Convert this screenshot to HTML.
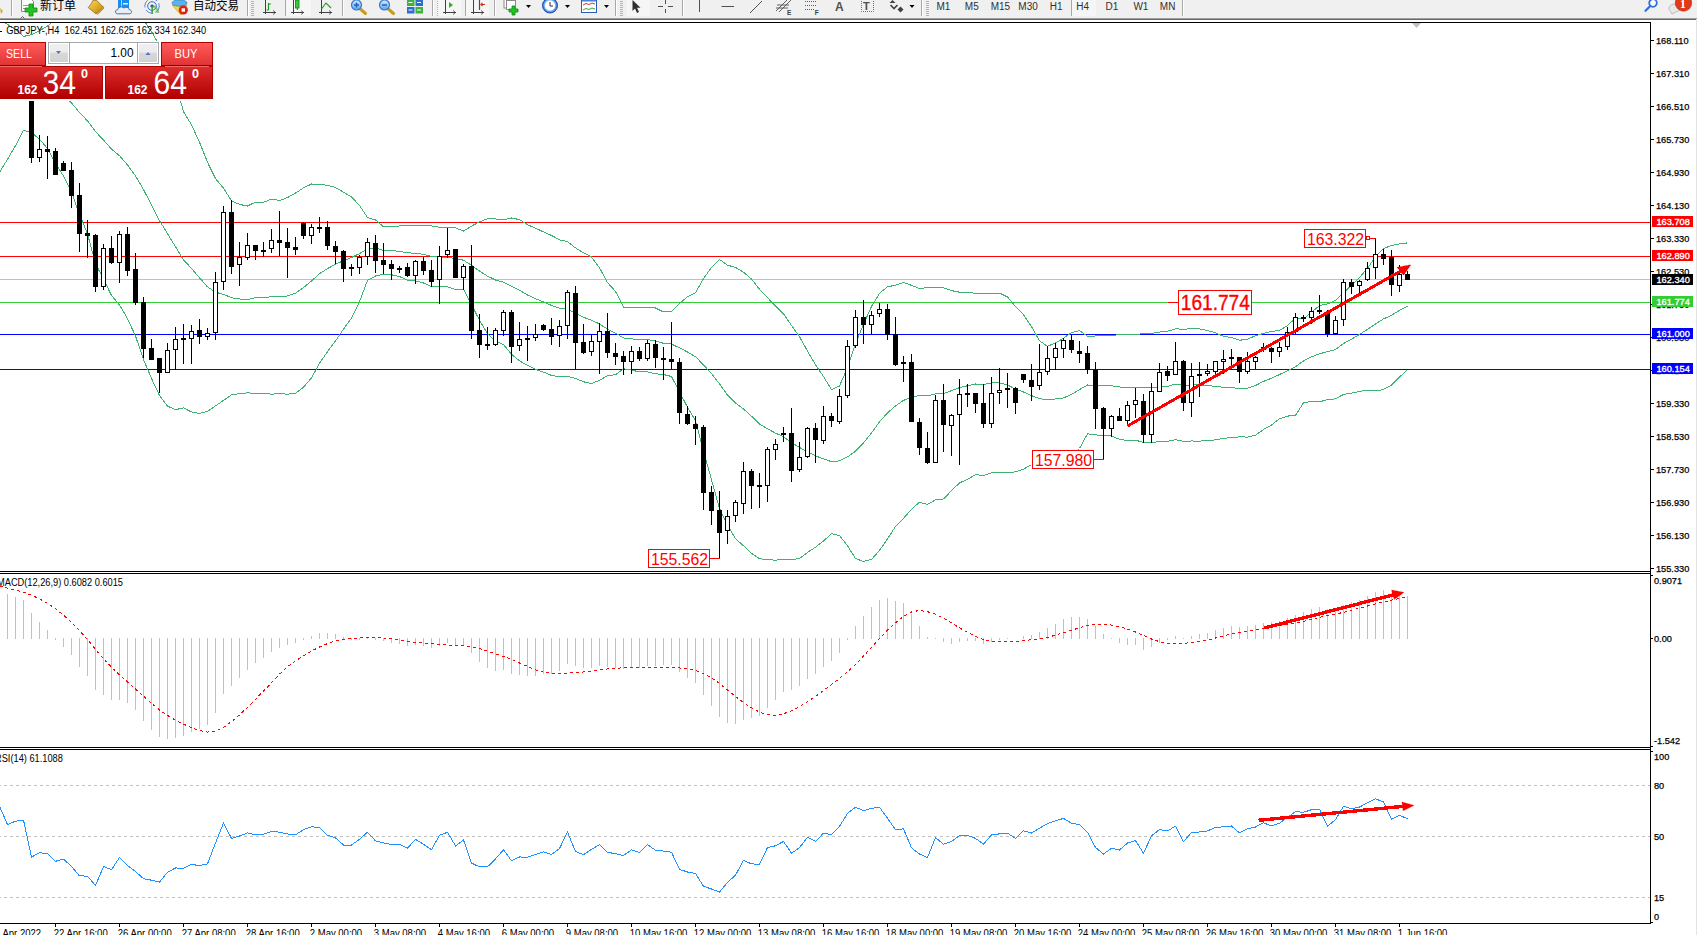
<!DOCTYPE html><html><head><meta charset="utf-8"><title>GBPJPY H4</title><style>html,body{margin:0;padding:0;background:#fff;}body{position:relative;width:1697px;height:935px;overflow:hidden;}svg text{white-space:pre;}</style></head><body><svg id="chart" width="1697" height="935" viewBox="0 0 1697 935" style="position:absolute;left:0;top:0" font-family="'Liberation Sans', Arial, sans-serif"><defs><clipPath id="cmain"><rect x="0" y="23" width="1650" height="548"/></clipPath><clipPath id="cmacd"><rect x="0" y="574" width="1650" height="173"/></clipPath><clipPath id="crsi"><rect x="0" y="750" width="1650" height="173"/></clipPath></defs><g shape-rendering="crispEdges"><rect x="0" y="222" width="1650" height="1" fill="#ff0000"/><rect x="0" y="256" width="1650" height="1" fill="#ff0000"/><rect x="0" y="279" width="1650" height="1" fill="#c0c0c0"/><rect x="0" y="302" width="1650" height="1" fill="#32cd32"/><rect x="0" y="334" width="1650" height="1" fill="#0000ff"/><rect x="0" y="369" width="1650" height="1" fill="#0000ff"/><line x1="0" y1="785.5" x2="1650" y2="785.5" stroke="#c0c0c0" stroke-dasharray="3,3" stroke-dashoffset="2"/><line x1="0" y1="836.5" x2="1650" y2="836.5" stroke="#c0c0c0" stroke-dasharray="3,3" stroke-dashoffset="2"/><line x1="0" y1="897.5" x2="1650" y2="897.5" stroke="#c0c0c0" stroke-dasharray="3,3" stroke-dashoffset="2"/></g><g clip-path="url(#cmain)"><polyline points="-0.5,19.9 7.5,24.4 15.5,29.3 23.5,36.5 31.5,34.6 39.5,30.7 47.5,26.1 55.5,19.2 63.5,16.5 71.5,13.8 79.5,10.5 87.5,8 95.5,-0.4 103.5,1.1 111.5,2.5 119.5,6.4 127.5,11.2 135.5,15.8 143.5,19.7 151.5,31.6 159.5,45.6 167.5,61.3 175.5,83.6 183.5,111.6 191.5,124.8 199.5,142.2 207.5,162.3 215.5,178.6 223.5,188.2 231.5,200.8 239.5,204.4 247.5,206 255.5,202.1 263.5,202.3 271.5,199.1 279.5,200.5 287.5,197.6 295.5,193.1 303.5,187.9 311.5,184 319.5,184.2 327.5,185.4 335.5,187.5 343.5,192.2 351.5,197 359.5,205.4 367.5,217.6 375.5,219.9 383.5,226.8 391.5,226.6 399.5,226 407.5,225.4 415.5,225.7 423.5,225.7 431.5,226 439.5,227.3 447.5,227.6 455.5,227.9 463.5,231 471.5,226.1 479.5,221.9 487.5,218.7 495.5,219 503.5,219.8 511.5,218 519.5,219.6 527.5,224.7 535.5,228.2 543.5,231.9 551.5,235.4 559.5,239.8 567.5,241.7 575.5,247.9 583.5,252.8 591.5,257 599.5,267.7 607.5,282.6 615.5,291.4 623.5,307.1 631.5,307.7 639.5,307.3 647.5,307.3 655.5,308 663.5,312 671.5,311.7 679.5,303.4 687.5,296.8 695.5,292.6 703.5,278.6 711.5,267.4 719.5,259.4 727.5,265.2 735.5,267.4 743.5,272.2 751.5,279.1 759.5,289.3 767.5,297.7 775.5,306.2 783.5,313.8 791.5,325.4 799.5,336.7 807.5,351.1 815.5,364.7 823.5,376.5 831.5,389.7 839.5,386 847.5,368 855.5,343.9 863.5,324.3 871.5,306.5 879.5,293.3 887.5,286.7 895.5,285.3 903.5,282.4 911.5,285.4 919.5,288.5 927.5,287.7 935.5,287.7 943.5,287.8 951.5,290.6 959.5,292.2 967.5,292.3 975.5,293.4 983.5,293.2 991.5,293.3 999.5,293.1 1007.5,296.9 1015.5,306.6 1023.5,314.6 1031.5,326.6 1039.5,340.8 1047.5,346.3 1055.5,342.9 1063.5,338.3 1071.5,332.5 1079.5,330.7 1087.5,336.2 1095.5,336 1103.5,335.6 1111.5,335.5 1119.5,334.6 1127.5,334.6 1135.5,334.6 1143.5,333.5 1151.5,333.4 1159.5,332.1 1167.5,331.3 1175.5,328.8 1183.5,329.3 1191.5,328.7 1199.5,328.9 1207.5,330.6 1215.5,332.8 1223.5,336.3 1231.5,337.5 1239.5,340.3 1247.5,339.1 1255.5,335.8 1263.5,333.4 1271.5,331.5 1279.5,330.4 1287.5,325.6 1295.5,318 1303.5,318.9 1311.5,312.3 1319.5,305.6 1327.5,304 1335.5,300.4 1343.5,292.8 1351.5,285.1 1359.5,277.5 1367.5,268.3 1375.5,256.9 1383.5,248.4 1391.5,245.6 1399.5,243.8 1407.5,242.9" fill="none" stroke="#3CB371" stroke-width="1" shape-rendering="crispEdges" /><polyline points="-0.5,96.2 7.5,91.8 15.5,87.5 23.5,83.3 31.5,83.6 39.5,84.9 47.5,87.3 55.5,91.5 63.5,96.3 71.5,102.9 79.5,112.5 87.5,120.9 95.5,131.6 103.5,140.1 111.5,149 119.5,155.7 127.5,164.9 135.5,175.9 143.5,189.6 151.5,205 159.5,220.6 167.5,233.7 175.5,246.7 183.5,259.8 191.5,268.4 199.5,277.8 207.5,286.9 215.5,292.2 223.5,294.3 231.5,297.8 239.5,299 247.5,299.5 255.5,297.7 263.5,297.7 271.5,296.6 279.5,297 287.5,295.9 295.5,293.2 303.5,287.6 311.5,280.9 319.5,273.7 327.5,268.6 335.5,264.2 343.5,260.7 351.5,257.5 359.5,253.6 367.5,249 375.5,248 383.5,250.6 391.5,250.7 399.5,251.3 407.5,252.8 415.5,253.3 423.5,254.3 431.5,256.4 439.5,257.1 447.5,257.2 455.5,258.6 463.5,260.2 471.5,265.3 479.5,271.1 487.5,276.1 495.5,280 503.5,282.2 511.5,286.1 519.5,290.2 527.5,295 535.5,298.7 543.5,302 551.5,305.4 559.5,308.3 567.5,309.1 575.5,313.2 583.5,317.3 591.5,320.2 599.5,324 607.5,329.1 615.5,333.1 623.5,337.9 631.5,338.9 639.5,339.6 647.5,339.5 655.5,340.9 663.5,343.3 671.5,344.1 679.5,347.8 687.5,352 695.5,356.7 703.5,364.9 711.5,373.6 719.5,383.9 727.5,395.1 735.5,403.1 743.5,409 751.5,416.2 759.5,424 767.5,428.8 775.5,433.1 783.5,436.7 791.5,442.6 799.5,447.5 807.5,451.8 815.5,455.9 823.5,458.8 831.5,461.7 839.5,460.8 847.5,456.9 855.5,451.2 863.5,442.8 871.5,433 879.5,421.8 887.5,412.8 895.5,405.9 903.5,400.4 911.5,397.3 919.5,395.3 927.5,396 935.5,393.8 943.5,393.4 951.5,390.7 959.5,387.6 967.5,385.8 975.5,384 983.5,384.4 991.5,383 999.5,382.8 1007.5,384.9 1015.5,389.2 1023.5,392 1031.5,395.6 1039.5,398.7 1047.5,399.9 1055.5,399 1063.5,397.9 1071.5,394.3 1079.5,389.6 1087.5,385 1095.5,385.5 1103.5,385.6 1111.5,385.7 1119.5,387 1127.5,387.6 1135.5,387.4 1143.5,387.9 1151.5,387.8 1159.5,386.9 1167.5,386.3 1175.5,384.2 1183.5,385.4 1191.5,384.9 1199.5,385 1207.5,385.7 1215.5,386.3 1223.5,387.3 1231.5,387.6 1239.5,388.5 1247.5,388.1 1255.5,385.5 1263.5,381.4 1271.5,378.2 1279.5,374.5 1287.5,370.9 1295.5,366.7 1303.5,360.9 1311.5,356.9 1319.5,353.8 1327.5,351.7 1335.5,349.6 1343.5,343.6 1351.5,339.1 1359.5,334.5 1367.5,329.3 1375.5,324 1383.5,318.9 1391.5,315.3 1399.5,310.4 1407.5,306.3" fill="none" stroke="#3CB371" stroke-width="1" shape-rendering="crispEdges" /><polyline points="-0.5,172.4 7.5,159.3 15.5,145.7 23.5,130.1 31.5,132.7 39.5,139.1 47.5,148.5 55.5,163.7 63.5,176 71.5,192.1 79.5,214.4 87.5,233.8 95.5,263.6 103.5,279.1 111.5,295.5 119.5,304.9 127.5,318.6 135.5,336 143.5,359.6 151.5,378.4 159.5,395.5 167.5,406.1 175.5,409.7 183.5,407.9 191.5,412 199.5,413.4 207.5,411.4 215.5,405.9 223.5,400.4 231.5,394.9 239.5,393.6 247.5,392.9 255.5,393.3 263.5,393.2 271.5,394.2 279.5,393.6 287.5,394.2 295.5,393.4 303.5,387.2 311.5,377.9 319.5,363.3 327.5,351.7 335.5,340.9 343.5,329.1 351.5,318.1 359.5,301.8 367.5,280.4 375.5,276 383.5,274.4 391.5,274.8 399.5,276.5 407.5,280.2 415.5,280.9 423.5,283 431.5,286.8 439.5,286.8 447.5,286.8 455.5,289.4 463.5,289.3 471.5,304.6 479.5,320.3 487.5,333.5 495.5,341 503.5,344.5 511.5,354.2 519.5,360.8 527.5,365.4 535.5,369.3 543.5,372.1 551.5,375.4 559.5,376.8 567.5,376.4 575.5,378.4 583.5,381.8 591.5,383.5 599.5,380.3 607.5,375.6 615.5,374.8 623.5,368.7 631.5,370.1 639.5,371.9 647.5,371.8 655.5,373.8 663.5,374.5 671.5,376.5 679.5,392.1 687.5,407.2 695.5,420.8 703.5,451.1 711.5,479.7 719.5,508.5 727.5,525 735.5,538.7 743.5,545.8 751.5,553.3 759.5,558.6 767.5,559.8 775.5,560.1 783.5,559.5 791.5,559.8 799.5,558.4 807.5,552.4 815.5,547.2 823.5,541 831.5,533.7 839.5,535.5 847.5,545.7 855.5,558.6 863.5,561.4 871.5,559.5 879.5,550.4 887.5,538.9 895.5,526.5 903.5,518.4 911.5,509.2 919.5,502.2 927.5,504.4 935.5,499.9 943.5,499 951.5,490.7 959.5,482.9 967.5,479.4 975.5,474.6 983.5,475.5 991.5,472.7 999.5,472.4 1007.5,472.9 1015.5,471.8 1023.5,469.3 1031.5,464.5 1039.5,456.6 1047.5,453.4 1055.5,455.2 1063.5,457.6 1071.5,456.1 1079.5,448.5 1087.5,433.8 1095.5,434.9 1103.5,435.7 1111.5,435.8 1119.5,439.4 1127.5,440.6 1135.5,440.2 1143.5,442.4 1151.5,442.3 1159.5,441.8 1167.5,441.3 1175.5,439.7 1183.5,441.4 1191.5,441 1199.5,441.1 1207.5,440.7 1215.5,439.9 1223.5,438.2 1231.5,437.7 1239.5,436.8 1247.5,437.1 1255.5,435.2 1263.5,429.5 1271.5,425 1279.5,418.7 1287.5,416.1 1295.5,415.4 1303.5,402.8 1311.5,401.4 1319.5,402 1327.5,399.4 1335.5,398.9 1343.5,394.4 1351.5,393.2 1359.5,391.4 1367.5,390.3 1375.5,391 1383.5,389.5 1391.5,385 1399.5,377.1 1407.5,369.8" fill="none" stroke="#3CB371" stroke-width="1" shape-rendering="crispEdges" /></g><g fill="#000" shape-rendering="crispEdges"><rect x="31" y="75" width="1" height="88"/><rect x="29" y="78" width="5" height="80"/><rect x="39" y="135" width="1" height="27"/><rect x="37" y="149" width="5" height="9"/><rect x="38" y="150" width="3" height="7" fill="#fff"/><rect x="47" y="136" width="1" height="43"/><rect x="45" y="149" width="5" height="3"/><rect x="55" y="148" width="1" height="27"/><rect x="53" y="151" width="5" height="24"/><rect x="63" y="161" width="1" height="10"/><rect x="61" y="163" width="5" height="8"/><rect x="71" y="162" width="1" height="46"/><rect x="69" y="170" width="5" height="26"/><rect x="79" y="183" width="1" height="69"/><rect x="77" y="195" width="5" height="39"/><rect x="87" y="220" width="1" height="38"/><rect x="85" y="233" width="5" height="3"/><rect x="95" y="234" width="1" height="58"/><rect x="93" y="235" width="5" height="52"/><rect x="103" y="244" width="1" height="46"/><rect x="101" y="248" width="5" height="39"/><rect x="102" y="249" width="3" height="37" fill="#fff"/><rect x="111" y="236" width="1" height="28"/><rect x="109" y="248" width="5" height="15"/><rect x="119" y="231" width="1" height="52"/><rect x="117" y="234" width="5" height="29"/><rect x="118" y="235" width="3" height="27" fill="#fff"/><rect x="127" y="227" width="1" height="49"/><rect x="125" y="234" width="5" height="37"/><rect x="135" y="253" width="1" height="52"/><rect x="133" y="269" width="5" height="34"/><rect x="143" y="297" width="1" height="61"/><rect x="141" y="302" width="5" height="47"/><rect x="151" y="339" width="1" height="21"/><rect x="149" y="348" width="5" height="12"/><rect x="159" y="358" width="1" height="35"/><rect x="157" y="358" width="5" height="15"/><rect x="167" y="343" width="1" height="30"/><rect x="165" y="350" width="5" height="23"/><rect x="166" y="351" width="3" height="21" fill="#fff"/><rect x="175" y="327" width="1" height="43"/><rect x="173" y="339" width="5" height="11"/><rect x="174" y="340" width="3" height="9" fill="#fff"/><rect x="183" y="324" width="1" height="40"/><rect x="181" y="338" width="5" height="2"/><rect x="191" y="325" width="1" height="39"/><rect x="189" y="331" width="5" height="8"/><rect x="190" y="332" width="3" height="6" fill="#fff"/><rect x="199" y="319" width="1" height="25"/><rect x="197" y="330" width="5" height="7"/><rect x="207" y="328" width="1" height="12"/><rect x="205" y="333" width="5" height="4"/><rect x="206" y="334" width="3" height="2" fill="#fff"/><rect x="215" y="272" width="1" height="68"/><rect x="213" y="282" width="5" height="51"/><rect x="214" y="283" width="3" height="49" fill="#fff"/><rect x="223" y="206" width="1" height="84"/><rect x="221" y="212" width="5" height="70"/><rect x="222" y="213" width="3" height="68" fill="#fff"/><rect x="231" y="200" width="1" height="74"/><rect x="229" y="212" width="5" height="55"/><rect x="239" y="242" width="1" height="44"/><rect x="237" y="257" width="5" height="8"/><rect x="238" y="258" width="3" height="6" fill="#fff"/><rect x="247" y="233" width="1" height="27"/><rect x="245" y="245" width="5" height="13"/><rect x="246" y="246" width="3" height="11" fill="#fff"/><rect x="255" y="245" width="1" height="15"/><rect x="253" y="245" width="5" height="6"/><rect x="263" y="242" width="1" height="15"/><rect x="261" y="250" width="5" height="2"/><rect x="271" y="229" width="1" height="24"/><rect x="269" y="240" width="5" height="9"/><rect x="270" y="241" width="3" height="7" fill="#fff"/><rect x="279" y="211" width="1" height="45"/><rect x="277" y="240" width="5" height="3"/><rect x="287" y="228" width="1" height="50"/><rect x="285" y="242" width="5" height="6"/><rect x="295" y="237" width="1" height="18"/><rect x="293" y="247" width="5" height="3"/><rect x="303" y="222" width="1" height="17"/><rect x="301" y="223" width="5" height="13"/><rect x="311" y="224" width="1" height="20"/><rect x="309" y="227" width="5" height="9"/><rect x="310" y="228" width="3" height="7" fill="#fff"/><rect x="319" y="217" width="1" height="16"/><rect x="317" y="227" width="5" height="2"/><rect x="327" y="221" width="1" height="29"/><rect x="325" y="227" width="5" height="19"/><rect x="335" y="241" width="1" height="23"/><rect x="333" y="246" width="5" height="6"/><rect x="343" y="250" width="1" height="32"/><rect x="341" y="251" width="5" height="18"/><rect x="351" y="264" width="1" height="12"/><rect x="349" y="267" width="5" height="2"/><rect x="359" y="255" width="1" height="19"/><rect x="357" y="257" width="5" height="11"/><rect x="358" y="258" width="3" height="9" fill="#fff"/><rect x="367" y="238" width="1" height="27"/><rect x="365" y="242" width="5" height="15"/><rect x="366" y="243" width="3" height="13" fill="#fff"/><rect x="375" y="235" width="1" height="38"/><rect x="373" y="243" width="5" height="18"/><rect x="383" y="243" width="1" height="31"/><rect x="381" y="260" width="5" height="5"/><rect x="391" y="260" width="1" height="20"/><rect x="389" y="264" width="5" height="5"/><rect x="399" y="266" width="1" height="7"/><rect x="397" y="268" width="5" height="2"/><rect x="407" y="263" width="1" height="14"/><rect x="405" y="267" width="5" height="9"/><rect x="415" y="260" width="1" height="24"/><rect x="413" y="261" width="5" height="15"/><rect x="414" y="262" width="3" height="13" fill="#fff"/><rect x="423" y="257" width="1" height="18"/><rect x="421" y="261" width="5" height="10"/><rect x="431" y="260" width="1" height="27"/><rect x="429" y="270" width="5" height="12"/><rect x="439" y="246" width="1" height="58"/><rect x="437" y="256" width="5" height="24"/><rect x="438" y="257" width="3" height="22" fill="#fff"/><rect x="447" y="228" width="1" height="30"/><rect x="445" y="250" width="5" height="5"/><rect x="446" y="251" width="3" height="3" fill="#fff"/><rect x="455" y="249" width="1" height="29"/><rect x="453" y="249" width="5" height="29"/><rect x="463" y="264" width="1" height="26"/><rect x="461" y="266" width="5" height="12"/><rect x="462" y="267" width="3" height="10" fill="#fff"/><rect x="471" y="245" width="1" height="94"/><rect x="469" y="266" width="5" height="65"/><rect x="479" y="314" width="1" height="44"/><rect x="477" y="330" width="5" height="15"/><rect x="487" y="327" width="1" height="23"/><rect x="485" y="344" width="5" height="2"/><rect x="495" y="328" width="1" height="18"/><rect x="493" y="330" width="5" height="15"/><rect x="494" y="331" width="3" height="13" fill="#fff"/><rect x="503" y="310" width="1" height="26"/><rect x="501" y="312" width="5" height="19"/><rect x="502" y="313" width="3" height="17" fill="#fff"/><rect x="511" y="310" width="1" height="53"/><rect x="509" y="312" width="5" height="35"/><rect x="519" y="322" width="1" height="29"/><rect x="517" y="339" width="5" height="7"/><rect x="518" y="340" width="3" height="5" fill="#fff"/><rect x="527" y="326" width="1" height="35"/><rect x="525" y="338" width="5" height="2"/><rect x="535" y="324" width="1" height="17"/><rect x="533" y="334" width="5" height="4"/><rect x="534" y="335" width="3" height="2" fill="#fff"/><rect x="543" y="324" width="1" height="7"/><rect x="541" y="325" width="5" height="5"/><rect x="551" y="318" width="1" height="27"/><rect x="549" y="329" width="5" height="8"/><rect x="559" y="320" width="1" height="27"/><rect x="557" y="326" width="5" height="10"/><rect x="558" y="327" width="3" height="8" fill="#fff"/><rect x="567" y="290" width="1" height="49"/><rect x="565" y="292" width="5" height="34"/><rect x="566" y="293" width="3" height="32" fill="#fff"/><rect x="575" y="286" width="1" height="83"/><rect x="573" y="293" width="5" height="50"/><rect x="583" y="324" width="1" height="30"/><rect x="581" y="342" width="5" height="11"/><rect x="591" y="335" width="1" height="21"/><rect x="589" y="341" width="5" height="11"/><rect x="590" y="342" width="3" height="9" fill="#fff"/><rect x="599" y="323" width="1" height="51"/><rect x="597" y="331" width="5" height="11"/><rect x="598" y="332" width="3" height="9" fill="#fff"/><rect x="607" y="313" width="1" height="45"/><rect x="605" y="331" width="5" height="22"/><rect x="615" y="343" width="1" height="22"/><rect x="613" y="353" width="5" height="4"/><rect x="623" y="351" width="1" height="24"/><rect x="621" y="356" width="5" height="6"/><rect x="631" y="346" width="1" height="28"/><rect x="629" y="351" width="5" height="11"/><rect x="630" y="352" width="3" height="9" fill="#fff"/><rect x="639" y="347" width="1" height="14"/><rect x="637" y="351" width="5" height="8"/><rect x="647" y="340" width="1" height="21"/><rect x="645" y="343" width="5" height="16"/><rect x="646" y="344" width="3" height="14" fill="#fff"/><rect x="655" y="340" width="1" height="28"/><rect x="653" y="344" width="5" height="14"/><rect x="663" y="347" width="1" height="33"/><rect x="661" y="358" width="5" height="2"/><rect x="671" y="322" width="1" height="47"/><rect x="669" y="359" width="5" height="3"/><rect x="679" y="358" width="1" height="66"/><rect x="677" y="362" width="5" height="51"/><rect x="687" y="406" width="1" height="19"/><rect x="685" y="414" width="5" height="10"/><rect x="695" y="416" width="1" height="29"/><rect x="693" y="424" width="5" height="5"/><rect x="703" y="425" width="1" height="85"/><rect x="701" y="427" width="5" height="66"/><rect x="711" y="486" width="1" height="39"/><rect x="709" y="492" width="5" height="19"/><rect x="719" y="491" width="1" height="67"/><rect x="717" y="510" width="5" height="23"/><rect x="727" y="510" width="1" height="34"/><rect x="725" y="516" width="5" height="15"/><rect x="726" y="517" width="3" height="13" fill="#fff"/><rect x="735" y="500" width="1" height="22"/><rect x="733" y="502" width="5" height="14"/><rect x="734" y="503" width="3" height="12" fill="#fff"/><rect x="743" y="462" width="1" height="52"/><rect x="741" y="471" width="5" height="33"/><rect x="742" y="472" width="3" height="31" fill="#fff"/><rect x="751" y="469" width="1" height="40"/><rect x="749" y="471" width="5" height="15"/><rect x="759" y="473" width="1" height="35"/><rect x="757" y="485" width="5" height="2"/><rect x="767" y="447" width="1" height="55"/><rect x="765" y="449" width="5" height="37"/><rect x="766" y="450" width="3" height="35" fill="#fff"/><rect x="775" y="439" width="1" height="21"/><rect x="773" y="444" width="5" height="6"/><rect x="774" y="445" width="3" height="4" fill="#fff"/><rect x="783" y="427" width="1" height="15"/><rect x="781" y="433" width="5" height="2"/><rect x="791" y="408" width="1" height="74"/><rect x="789" y="433" width="5" height="38"/><rect x="799" y="442" width="1" height="30"/><rect x="797" y="457" width="5" height="13"/><rect x="798" y="458" width="3" height="11" fill="#fff"/><rect x="807" y="427" width="1" height="31"/><rect x="805" y="428" width="5" height="29"/><rect x="806" y="429" width="3" height="27" fill="#fff"/><rect x="815" y="423" width="1" height="40"/><rect x="813" y="428" width="5" height="12"/><rect x="823" y="406" width="1" height="38"/><rect x="821" y="416" width="5" height="25"/><rect x="822" y="417" width="3" height="23" fill="#fff"/><rect x="831" y="413" width="1" height="14"/><rect x="829" y="416" width="5" height="5"/><rect x="839" y="389" width="1" height="35"/><rect x="837" y="396" width="5" height="26"/><rect x="838" y="397" width="3" height="24" fill="#fff"/><rect x="847" y="340" width="1" height="58"/><rect x="845" y="346" width="5" height="50"/><rect x="846" y="347" width="3" height="48" fill="#fff"/><rect x="855" y="310" width="1" height="38"/><rect x="853" y="317" width="5" height="29"/><rect x="854" y="318" width="3" height="27" fill="#fff"/><rect x="863" y="300" width="1" height="44"/><rect x="861" y="317" width="5" height="8"/><rect x="871" y="311" width="1" height="23"/><rect x="869" y="315" width="5" height="10"/><rect x="870" y="316" width="3" height="8" fill="#fff"/><rect x="879" y="303" width="1" height="14"/><rect x="877" y="309" width="5" height="5"/><rect x="878" y="310" width="3" height="3" fill="#fff"/><rect x="887" y="304" width="1" height="36"/><rect x="885" y="309" width="5" height="26"/><rect x="895" y="317" width="1" height="49"/><rect x="893" y="334" width="5" height="31"/><rect x="903" y="356" width="1" height="26"/><rect x="901" y="362" width="5" height="2"/><rect x="911" y="354" width="1" height="68"/><rect x="909" y="362" width="5" height="60"/><rect x="919" y="418" width="1" height="37"/><rect x="917" y="422" width="5" height="26"/><rect x="927" y="432" width="1" height="32"/><rect x="925" y="448" width="5" height="15"/><rect x="935" y="395" width="1" height="68"/><rect x="933" y="400" width="5" height="63"/><rect x="934" y="401" width="3" height="61" fill="#fff"/><rect x="943" y="384" width="1" height="68"/><rect x="941" y="400" width="5" height="25"/><rect x="951" y="414" width="1" height="42"/><rect x="949" y="415" width="5" height="11"/><rect x="950" y="416" width="3" height="9" fill="#fff"/><rect x="959" y="379" width="1" height="86"/><rect x="957" y="394" width="5" height="21"/><rect x="958" y="395" width="3" height="19" fill="#fff"/><rect x="967" y="384" width="1" height="23"/><rect x="965" y="393" width="5" height="2"/><rect x="975" y="393" width="1" height="20"/><rect x="973" y="393" width="5" height="11"/><rect x="983" y="384" width="1" height="44"/><rect x="981" y="403" width="5" height="21"/><rect x="991" y="377" width="1" height="51"/><rect x="989" y="393" width="5" height="31"/><rect x="990" y="394" width="3" height="29" fill="#fff"/><rect x="999" y="368" width="1" height="36"/><rect x="997" y="390" width="5" height="3"/><rect x="998" y="391" width="3" height="1" fill="#fff"/><rect x="1007" y="373" width="1" height="35"/><rect x="1005" y="388" width="5" height="2"/><rect x="1015" y="387" width="1" height="27"/><rect x="1013" y="388" width="5" height="15"/><rect x="1023" y="374" width="1" height="9"/><rect x="1021" y="374" width="5" height="6"/><rect x="1031" y="364" width="1" height="37"/><rect x="1029" y="380" width="5" height="7"/><rect x="1039" y="344" width="1" height="46"/><rect x="1037" y="372" width="5" height="14"/><rect x="1038" y="373" width="3" height="12" fill="#fff"/><rect x="1047" y="346" width="1" height="29"/><rect x="1045" y="358" width="5" height="14"/><rect x="1046" y="359" width="3" height="12" fill="#fff"/><rect x="1055" y="343" width="1" height="27"/><rect x="1053" y="348" width="5" height="10"/><rect x="1054" y="349" width="3" height="8" fill="#fff"/><rect x="1063" y="338" width="1" height="20"/><rect x="1061" y="340" width="5" height="9"/><rect x="1062" y="341" width="3" height="7" fill="#fff"/><rect x="1071" y="335" width="1" height="18"/><rect x="1069" y="340" width="5" height="10"/><rect x="1079" y="341" width="1" height="22"/><rect x="1077" y="351" width="5" height="3"/><rect x="1087" y="346" width="1" height="28"/><rect x="1085" y="353" width="5" height="17"/><rect x="1095" y="362" width="1" height="67"/><rect x="1093" y="370" width="5" height="39"/><rect x="1103" y="407" width="1" height="53"/><rect x="1101" y="408" width="5" height="21"/><rect x="1111" y="415" width="1" height="22"/><rect x="1109" y="416" width="5" height="13"/><rect x="1110" y="417" width="3" height="11" fill="#fff"/><rect x="1119" y="408" width="1" height="13"/><rect x="1117" y="416" width="5" height="5"/><rect x="1127" y="401" width="1" height="24"/><rect x="1125" y="405" width="5" height="16"/><rect x="1126" y="406" width="3" height="14" fill="#fff"/><rect x="1135" y="388" width="1" height="30"/><rect x="1133" y="400" width="5" height="5"/><rect x="1134" y="401" width="3" height="3" fill="#fff"/><rect x="1143" y="394" width="1" height="49"/><rect x="1141" y="401" width="5" height="34"/><rect x="1151" y="383" width="1" height="60"/><rect x="1149" y="391" width="5" height="44"/><rect x="1150" y="392" width="3" height="42" fill="#fff"/><rect x="1159" y="363" width="1" height="29"/><rect x="1157" y="372" width="5" height="20"/><rect x="1158" y="373" width="3" height="18" fill="#fff"/><rect x="1167" y="366" width="1" height="15"/><rect x="1165" y="371" width="5" height="5"/><rect x="1175" y="342" width="1" height="33"/><rect x="1173" y="361" width="5" height="14"/><rect x="1174" y="362" width="3" height="12" fill="#fff"/><rect x="1183" y="360" width="1" height="51"/><rect x="1181" y="361" width="5" height="42"/><rect x="1191" y="363" width="1" height="54"/><rect x="1189" y="376" width="5" height="27"/><rect x="1190" y="377" width="3" height="25" fill="#fff"/><rect x="1199" y="362" width="1" height="35"/><rect x="1197" y="374" width="5" height="2"/><rect x="1207" y="364" width="1" height="12"/><rect x="1205" y="371" width="5" height="3"/><rect x="1206" y="372" width="3" height="1" fill="#fff"/><rect x="1215" y="361" width="1" height="13"/><rect x="1213" y="361" width="5" height="11"/><rect x="1214" y="362" width="3" height="9" fill="#fff"/><rect x="1223" y="350" width="1" height="24"/><rect x="1221" y="359" width="5" height="3"/><rect x="1222" y="360" width="3" height="1" fill="#fff"/><rect x="1231" y="349" width="1" height="21"/><rect x="1229" y="357" width="5" height="2"/><rect x="1239" y="357" width="1" height="26"/><rect x="1237" y="357" width="5" height="15"/><rect x="1247" y="352" width="1" height="22"/><rect x="1245" y="361" width="5" height="11"/><rect x="1246" y="362" width="3" height="9" fill="#fff"/><rect x="1255" y="356" width="1" height="13"/><rect x="1253" y="357" width="5" height="5"/><rect x="1254" y="358" width="3" height="3" fill="#fff"/><rect x="1263" y="343" width="1" height="9"/><rect x="1261" y="347" width="5" height="3"/><rect x="1262" y="348" width="3" height="1" fill="#fff"/><rect x="1271" y="347" width="1" height="16"/><rect x="1269" y="348" width="5" height="4"/><rect x="1279" y="342" width="1" height="15"/><rect x="1277" y="347" width="5" height="5"/><rect x="1278" y="348" width="3" height="3" fill="#fff"/><rect x="1287" y="327" width="1" height="23"/><rect x="1285" y="332" width="5" height="15"/><rect x="1286" y="333" width="3" height="13" fill="#fff"/><rect x="1295" y="313" width="1" height="21"/><rect x="1293" y="317" width="5" height="15"/><rect x="1294" y="318" width="3" height="13" fill="#fff"/><rect x="1303" y="315" width="1" height="7"/><rect x="1301" y="317" width="5" height="2"/><rect x="1311" y="307" width="1" height="17"/><rect x="1309" y="311" width="5" height="7"/><rect x="1310" y="312" width="3" height="5" fill="#fff"/><rect x="1319" y="295" width="1" height="19"/><rect x="1317" y="310" width="5" height="2"/><rect x="1327" y="310" width="1" height="27"/><rect x="1325" y="312" width="5" height="22"/><rect x="1335" y="316" width="1" height="19"/><rect x="1333" y="320" width="5" height="14"/><rect x="1334" y="321" width="3" height="12" fill="#fff"/><rect x="1343" y="279" width="1" height="47"/><rect x="1341" y="282" width="5" height="38"/><rect x="1342" y="283" width="3" height="36" fill="#fff"/><rect x="1351" y="279" width="1" height="15"/><rect x="1349" y="282" width="5" height="5"/><rect x="1359" y="280" width="1" height="16"/><rect x="1357" y="281" width="5" height="5"/><rect x="1358" y="282" width="3" height="3" fill="#fff"/><rect x="1367" y="262" width="1" height="19"/><rect x="1365" y="268" width="5" height="12"/><rect x="1366" y="269" width="3" height="10" fill="#fff"/><rect x="1375" y="238" width="1" height="41"/><rect x="1373" y="254" width="5" height="14"/><rect x="1374" y="255" width="3" height="12" fill="#fff"/><rect x="1383" y="249" width="1" height="16"/><rect x="1381" y="254" width="5" height="5"/><rect x="1391" y="250" width="1" height="46"/><rect x="1389" y="257" width="5" height="28"/><rect x="1399" y="265" width="1" height="27"/><rect x="1397" y="274" width="5" height="12"/><rect x="1398" y="275" width="3" height="10" fill="#fff"/><rect x="1407" y="271" width="1" height="9"/><rect x="1405" y="274" width="5" height="6"/></g><g clip-path="url(#cmacd)"><g stroke="#c0c0c0" stroke-width="1" shape-rendering="crispEdges"><line x1="-0.5" y1="639" x2="-0.5" y2="589.7"/><line x1="7.5" y1="639" x2="7.5" y2="594"/><line x1="15.5" y1="639" x2="15.5" y2="597"/><line x1="23.5" y1="639" x2="23.5" y2="599.5"/><line x1="31.5" y1="639" x2="31.5" y2="612.8"/><line x1="39.5" y1="639" x2="39.5" y2="622.3"/><line x1="47.5" y1="639" x2="47.5" y2="630.3"/><line x1="55.5" y1="638" x2="55.5" y2="639.8"/><line x1="63.5" y1="638" x2="63.5" y2="646.7"/><line x1="71.5" y1="638" x2="71.5" y2="655.3"/><line x1="79.5" y1="638" x2="79.5" y2="667.2"/><line x1="87.5" y1="638" x2="87.5" y2="676.4"/><line x1="95.5" y1="638" x2="95.5" y2="690.1"/><line x1="103.5" y1="638" x2="103.5" y2="694.9"/><line x1="111.5" y1="638" x2="111.5" y2="700.1"/><line x1="119.5" y1="638" x2="119.5" y2="699.5"/><line x1="127.5" y1="638" x2="127.5" y2="703.4"/><line x1="135.5" y1="638" x2="135.5" y2="710"/><line x1="143.5" y1="638" x2="143.5" y2="720.6"/><line x1="151.5" y1="638" x2="151.5" y2="729.5"/><line x1="159.5" y1="638" x2="159.5" y2="737.2"/><line x1="167.5" y1="638" x2="167.5" y2="738.9"/><line x1="175.5" y1="638" x2="175.5" y2="737.7"/><line x1="183.5" y1="638" x2="183.5" y2="735.7"/><line x1="191.5" y1="638" x2="191.5" y2="731.8"/><line x1="199.5" y1="638" x2="199.5" y2="728.6"/><line x1="207.5" y1="638" x2="207.5" y2="724.5"/><line x1="215.5" y1="638" x2="215.5" y2="713.4"/><line x1="223.5" y1="638" x2="223.5" y2="694.3"/><line x1="231.5" y1="638" x2="231.5" y2="686.2"/><line x1="239.5" y1="638" x2="239.5" y2="678"/><line x1="247.5" y1="638" x2="247.5" y2="669.5"/><line x1="255.5" y1="638" x2="255.5" y2="663.3"/><line x1="263.5" y1="638" x2="263.5" y2="658"/><line x1="271.5" y1="638" x2="271.5" y2="652.3"/><line x1="279.5" y1="638" x2="279.5" y2="648"/><line x1="287.5" y1="638" x2="287.5" y2="645.2"/><line x1="295.5" y1="638" x2="295.5" y2="643.2"/><line x1="303.5" y1="638" x2="303.5" y2="639.7"/><line x1="311.5" y1="639" x2="311.5" y2="635.8"/><line x1="319.5" y1="639" x2="319.5" y2="633"/><line x1="327.5" y1="639" x2="327.5" y2="633.1"/><line x1="335.5" y1="639" x2="335.5" y2="634.1"/><line x1="343.5" y1="639" x2="343.5" y2="637.3"/><line x1="351.5" y1="638" x2="351.5" y2="639.7"/><line x1="359.5" y1="638" x2="359.5" y2="640.1"/><line x1="367.5" y1="639" x2="367.5" y2="638.4"/><line x1="375.5" y1="638" x2="375.5" y2="639.5"/><line x1="383.5" y1="638" x2="383.5" y2="640.9"/><line x1="391.5" y1="638" x2="391.5" y2="642.6"/><line x1="399.5" y1="638" x2="399.5" y2="643.8"/><line x1="407.5" y1="638" x2="407.5" y2="645.7"/><line x1="415.5" y1="638" x2="415.5" y2="645.1"/><line x1="423.5" y1="638" x2="423.5" y2="645.8"/><line x1="431.5" y1="638" x2="431.5" y2="647.8"/><line x1="439.5" y1="638" x2="439.5" y2="645.8"/><line x1="447.5" y1="638" x2="447.5" y2="643.4"/><line x1="455.5" y1="638" x2="455.5" y2="645.1"/><line x1="463.5" y1="638" x2="463.5" y2="644.9"/><line x1="471.5" y1="638" x2="471.5" y2="653.3"/><line x1="479.5" y1="638" x2="479.5" y2="661.7"/><line x1="487.5" y1="638" x2="487.5" y2="668"/><line x1="495.5" y1="638" x2="495.5" y2="670.6"/><line x1="503.5" y1="638" x2="503.5" y2="669.9"/><line x1="511.5" y1="638" x2="511.5" y2="673.6"/><line x1="519.5" y1="638" x2="519.5" y2="675.1"/><line x1="527.5" y1="638" x2="527.5" y2="676"/><line x1="535.5" y1="638" x2="535.5" y2="675.5"/><line x1="543.5" y1="638" x2="543.5" y2="674"/><line x1="551.5" y1="638" x2="551.5" y2="673.5"/><line x1="559.5" y1="638" x2="559.5" y2="671.2"/><line x1="567.5" y1="638" x2="567.5" y2="664.4"/><line x1="575.5" y1="638" x2="575.5" y2="665.7"/><line x1="583.5" y1="638" x2="583.5" y2="667.8"/><line x1="591.5" y1="638" x2="591.5" y2="667.5"/><line x1="599.5" y1="638" x2="599.5" y2="665.6"/><line x1="607.5" y1="638" x2="607.5" y2="666.7"/><line x1="615.5" y1="638" x2="615.5" y2="667.8"/><line x1="623.5" y1="638" x2="623.5" y2="669.1"/><line x1="631.5" y1="638" x2="631.5" y2="668.2"/><line x1="639.5" y1="638" x2="639.5" y2="668.2"/><line x1="647.5" y1="638" x2="647.5" y2="665.8"/><line x1="655.5" y1="638" x2="655.5" y2="665.5"/><line x1="663.5" y1="638" x2="663.5" y2="665.3"/><line x1="671.5" y1="638" x2="671.5" y2="665.2"/><line x1="679.5" y1="638" x2="679.5" y2="671.7"/><line x1="687.5" y1="638" x2="687.5" y2="677.8"/><line x1="695.5" y1="638" x2="695.5" y2="682.9"/><line x1="703.5" y1="638" x2="703.5" y2="695"/><line x1="711.5" y1="638" x2="711.5" y2="706.3"/><line x1="719.5" y1="638" x2="719.5" y2="717.4"/><line x1="727.5" y1="638" x2="727.5" y2="722.9"/><line x1="735.5" y1="638" x2="735.5" y2="724.4"/><line x1="743.5" y1="638" x2="743.5" y2="720.4"/><line x1="751.5" y1="638" x2="751.5" y2="718.2"/><line x1="759.5" y1="638" x2="759.5" y2="715.8"/><line x1="767.5" y1="638" x2="767.5" y2="707.9"/><line x1="775.5" y1="638" x2="775.5" y2="700.2"/><line x1="783.5" y1="638" x2="783.5" y2="692"/><line x1="791.5" y1="638" x2="791.5" y2="690.1"/><line x1="799.5" y1="638" x2="799.5" y2="686.1"/><line x1="807.5" y1="638" x2="807.5" y2="678.6"/><line x1="815.5" y1="638" x2="815.5" y2="673.9"/><line x1="823.5" y1="638" x2="823.5" y2="666.6"/><line x1="831.5" y1="638" x2="831.5" y2="661.1"/><line x1="839.5" y1="638" x2="839.5" y2="653.1"/><line x1="847.5" y1="638" x2="847.5" y2="640"/><line x1="855.5" y1="639" x2="855.5" y2="625.7"/><line x1="863.5" y1="639" x2="863.5" y2="615.8"/><line x1="871.5" y1="639" x2="871.5" y2="606.9"/><line x1="879.5" y1="639" x2="879.5" y2="599.6"/><line x1="887.5" y1="639" x2="887.5" y2="597.7"/><line x1="895.5" y1="639" x2="895.5" y2="600.8"/><line x1="903.5" y1="639" x2="903.5" y2="603.3"/><line x1="911.5" y1="639" x2="911.5" y2="613.9"/><line x1="919.5" y1="639" x2="919.5" y2="625.9"/><line x1="927.5" y1="639" x2="927.5" y2="637.4"/><line x1="935.5" y1="639" x2="935.5" y2="637.9"/><line x1="943.5" y1="638" x2="943.5" y2="641.8"/><line x1="951.5" y1="638" x2="951.5" y2="643.5"/><line x1="959.5" y1="638" x2="959.5" y2="641.9"/><line x1="967.5" y1="638" x2="967.5" y2="640.5"/><line x1="975.5" y1="638" x2="975.5" y2="640.8"/><line x1="983.5" y1="638" x2="983.5" y2="643.7"/><line x1="991.5" y1="638" x2="991.5" y2="641.8"/><line x1="999.5" y1="638" x2="999.5" y2="639.8"/><line x1="1007.5" y1="639" x2="1007.5" y2="638.1"/><line x1="1015.5" y1="639" x2="1015.5" y2="638.6"/><line x1="1023.5" y1="639" x2="1023.5" y2="636"/><line x1="1031.5" y1="639" x2="1031.5" y2="634.8"/><line x1="1039.5" y1="639" x2="1039.5" y2="631.9"/><line x1="1047.5" y1="639" x2="1047.5" y2="627.8"/><line x1="1055.5" y1="639" x2="1055.5" y2="623.5"/><line x1="1063.5" y1="639" x2="1063.5" y2="619.2"/><line x1="1071.5" y1="639" x2="1071.5" y2="617.4"/><line x1="1079.5" y1="639" x2="1079.5" y2="616.6"/><line x1="1087.5" y1="639" x2="1087.5" y2="618.5"/><line x1="1095.5" y1="639" x2="1095.5" y2="625.5"/><line x1="1103.5" y1="639" x2="1103.5" y2="633.8"/><line x1="1111.5" y1="638" x2="1111.5" y2="638.7"/><line x1="1119.5" y1="638" x2="1119.5" y2="643.2"/><line x1="1127.5" y1="638" x2="1127.5" y2="644.5"/><line x1="1135.5" y1="638" x2="1135.5" y2="644.8"/><line x1="1143.5" y1="638" x2="1143.5" y2="649.6"/><line x1="1151.5" y1="638" x2="1151.5" y2="647.4"/><line x1="1159.5" y1="638" x2="1159.5" y2="643"/><line x1="1167.5" y1="638" x2="1167.5" y2="639.9"/><line x1="1175.5" y1="639" x2="1175.5" y2="635.6"/><line x1="1183.5" y1="639" x2="1183.5" y2="637.9"/><line x1="1191.5" y1="639" x2="1191.5" y2="636"/><line x1="1199.5" y1="639" x2="1199.5" y2="634.4"/><line x1="1207.5" y1="639" x2="1207.5" y2="632.7"/><line x1="1215.5" y1="639" x2="1215.5" y2="630.1"/><line x1="1223.5" y1="639" x2="1223.5" y2="627.9"/><line x1="1231.5" y1="639" x2="1231.5" y2="626"/><line x1="1239.5" y1="639" x2="1239.5" y2="626.6"/><line x1="1247.5" y1="639" x2="1247.5" y2="625.9"/><line x1="1255.5" y1="639" x2="1255.5" y2="624.8"/><line x1="1263.5" y1="639" x2="1263.5" y2="622.8"/><line x1="1271.5" y1="639" x2="1271.5" y2="622.1"/><line x1="1279.5" y1="639" x2="1279.5" y2="621"/><line x1="1287.5" y1="639" x2="1287.5" y2="618.4"/><line x1="1295.5" y1="639" x2="1295.5" y2="614.5"/><line x1="1303.5" y1="639" x2="1303.5" y2="611.9"/><line x1="1311.5" y1="639" x2="1311.5" y2="609.2"/><line x1="1319.5" y1="639" x2="1319.5" y2="607.3"/><line x1="1327.5" y1="639" x2="1327.5" y2="609.4"/><line x1="1335.5" y1="639" x2="1335.5" y2="609.5"/><line x1="1343.5" y1="639" x2="1343.5" y2="604.8"/><line x1="1351.5" y1="639" x2="1351.5" y2="602"/><line x1="1359.5" y1="639" x2="1359.5" y2="599.6"/><line x1="1367.5" y1="639" x2="1367.5" y2="596.3"/><line x1="1375.5" y1="639" x2="1375.5" y2="592.4"/><line x1="1383.5" y1="639" x2="1383.5" y2="590.4"/><line x1="1391.5" y1="639" x2="1391.5" y2="593"/><line x1="1399.5" y1="639" x2="1399.5" y2="594.1"/><line x1="1407.5" y1="639" x2="1407.5" y2="596.1"/></g><polyline points="-0.5,586.3 7.5,588.1 15.5,590.1 23.5,592.1 31.5,595.1 39.5,598.9 47.5,603.4 55.5,608.8 63.5,615.2 71.5,622.5 79.5,630.6 87.5,639.4 95.5,649.5 103.5,658.6 111.5,667.3 119.5,674.9 127.5,682 135.5,689 143.5,696.3 151.5,703.2 159.5,710 167.5,715.4 175.5,720.2 183.5,724.1 191.5,727.7 199.5,730.5 207.5,732.1 215.5,731.3 223.5,727.4 231.5,721.7 239.5,715 247.5,707.4 255.5,699.3 263.5,691.1 271.5,682.7 279.5,674.2 287.5,666.6 295.5,660.9 303.5,655.7 311.5,651 319.5,647 327.5,643.6 335.5,641 343.5,639.3 351.5,638.4 359.5,637.8 367.5,637.3 375.5,637.3 383.5,637.9 391.5,638.9 399.5,640.1 407.5,641.4 415.5,642.3 423.5,642.9 431.5,643.8 439.5,644.6 447.5,645 455.5,645.5 463.5,645.8 471.5,646.8 479.5,648.6 487.5,651.1 495.5,653.9 503.5,656.4 511.5,659.4 519.5,663 527.5,666.4 535.5,669.8 543.5,672.1 551.5,673.4 559.5,673.8 567.5,673.1 575.5,672.6 583.5,672 591.5,671.1 599.5,670 607.5,669 615.5,668.3 623.5,667.8 631.5,667.5 639.5,667.9 647.5,667.9 655.5,667.6 663.5,667.4 671.5,667.3 679.5,667.9 687.5,669 695.5,670.5 703.5,673.5 711.5,677.8 719.5,683.5 727.5,689.9 735.5,696.5 743.5,702.6 751.5,707.8 759.5,712 767.5,714.8 775.5,715.3 783.5,713.8 791.5,710.7 799.5,706.6 807.5,701.5 815.5,696.4 823.5,690.6 831.5,684.6 839.5,678.5 847.5,671.8 855.5,664.4 863.5,656.2 871.5,647.3 879.5,638.6 887.5,630.1 895.5,622.8 903.5,616.4 911.5,612 919.5,610.4 927.5,611.7 935.5,614.2 943.5,618.1 951.5,623 959.5,627.9 967.5,632.3 975.5,636.4 983.5,639.8 991.5,641.5 999.5,641.8 1007.5,641.8 1015.5,641.4 1023.5,640.6 1031.5,639.8 1039.5,638.9 1047.5,637.4 1055.5,635.2 1063.5,632.7 1071.5,630.2 1079.5,627.8 1087.5,625.6 1095.5,624.4 1103.5,624.3 1111.5,625.1 1119.5,626.8 1127.5,629.1 1135.5,632 1143.5,635.5 1151.5,639 1159.5,641.7 1167.5,643.3 1175.5,643.5 1183.5,643.4 1191.5,642.6 1199.5,641.5 1207.5,640.1 1215.5,638 1223.5,635.8 1231.5,633.9 1239.5,632.4 1247.5,631.3 1255.5,629.9 1263.5,628.4 1271.5,627.1 1279.5,625.8 1287.5,624.5 1295.5,623 1303.5,621.4 1311.5,619.4 1319.5,617.4 1327.5,615.7 1335.5,614.2 1343.5,612.3 1351.5,610.2 1359.5,608.1 1367.5,606 1375.5,603.9 1383.5,601.8 1391.5,600.2 1399.5,598.5 1407.5,597" fill="none" stroke="#ff0000" stroke-width="1" shape-rendering="crispEdges" stroke-dasharray="3,3"/></g><g clip-path="url(#crsi)"><polyline points="-0.5,806.4 7.5,824.5 15.5,821.2 23.5,820.1 31.5,857.1 39.5,852.7 47.5,853.6 55.5,861.3 63.5,859.1 71.5,866.5 79.5,875.9 87.5,876.1 95.5,885.6 103.5,866.5 111.5,869.7 119.5,857.5 127.5,865.5 135.5,871.5 143.5,878.7 151.5,880.2 159.5,882 167.5,872.3 175.5,868 183.5,868.1 191.5,864.3 199.5,865.7 207.5,863.8 215.5,842.9 223.5,823.1 231.5,838.4 239.5,836 247.5,832.9 255.5,834.7 263.5,834.2 271.5,831.4 279.5,832.2 287.5,834 295.5,834.8 303.5,829.7 311.5,826.8 319.5,827.4 327.5,835.2 335.5,837.9 343.5,845 351.5,845 359.5,839.3 367.5,832.2 375.5,840.9 383.5,842.8 391.5,844.6 399.5,844.4 407.5,848.2 415.5,839.3 423.5,844.3 431.5,849.7 439.5,835.3 447.5,832.2 455.5,845.9 463.5,840 471.5,863.1 479.5,866.8 487.5,866.8 495.5,858.9 503.5,849.8 511.5,860.7 519.5,857 527.5,857.1 535.5,854.4 543.5,851.8 551.5,854.5 559.5,848.5 567.5,832.1 575.5,851.5 583.5,854.6 591.5,849.3 599.5,844.8 607.5,852.4 615.5,853.6 623.5,855.6 631.5,849.7 639.5,852.5 647.5,844.6 655.5,850.3 663.5,851.1 671.5,852.3 679.5,869.4 687.5,872 695.5,873.4 703.5,886.3 711.5,889 719.5,892 727.5,882.4 735.5,875.2 743.5,860.4 751.5,863.9 759.5,864.2 767.5,847.6 775.5,845.8 783.5,841.4 791.5,853.3 799.5,847.6 807.5,837.3 815.5,841.3 823.5,833.2 831.5,834.7 839.5,826.5 847.5,813.3 855.5,807.3 863.5,810.6 871.5,808.4 879.5,807.2 887.5,818.3 895.5,829.7 903.5,828.9 911.5,847.8 919.5,854.1 927.5,857.5 935.5,837.7 943.5,844.2 951.5,841.4 959.5,835.5 967.5,835.4 975.5,838.4 983.5,844.3 991.5,834.8 999.5,833.9 1007.5,833.3 1015.5,838.2 1023.5,830.8 1031.5,833.1 1039.5,828.1 1047.5,823.7 1055.5,820.8 1063.5,818.4 1071.5,823.2 1079.5,824.7 1087.5,832.4 1095.5,847.5 1103.5,854 1111.5,848.4 1119.5,850 1127.5,843 1135.5,840.7 1143.5,853.2 1151.5,835.9 1159.5,829.5 1167.5,830.9 1175.5,826.1 1183.5,841.6 1191.5,832.5 1199.5,832 1207.5,830.9 1215.5,827.5 1223.5,826.8 1231.5,826 1239.5,832.9 1247.5,828.7 1255.5,827 1263.5,822.8 1271.5,825.9 1279.5,823.3 1287.5,817.3 1295.5,811.7 1303.5,812.3 1311.5,809.7 1319.5,809.3 1327.5,826 1335.5,819.8 1343.5,806.1 1351.5,808.8 1359.5,807 1367.5,802.9 1375.5,798.8 1383.5,802 1391.5,819.3 1399.5,815.4 1407.5,818.6" fill="none" stroke="#1E90FF" stroke-width="1" shape-rendering="crispEdges" /></g><rect x="709" y="558" width="11" height="1" fill="#ff0000"/><rect x="648.5" y="549.5" width="61" height="18" fill="#fff" stroke="#ff0000" stroke-width="1" shape-rendering="crispEdges"/><text x="651" y="565" font-size="16.8" fill="#ff0000" textLength="57.1" lengthAdjust="spacingAndGlyphs" >155.562</text><rect x="1093" y="459" width="11" height="1" fill="#ff0000"/><rect x="1032.5" y="450.5" width="61" height="18" fill="#fff" stroke="#ff0000" stroke-width="1" shape-rendering="crispEdges"/><text x="1035" y="466" font-size="16.8" fill="#ff0000" textLength="57.1" lengthAdjust="spacingAndGlyphs" >157.980</text><rect x="1365" y="238" width="11" height="1" fill="#ff0000"/><rect x="1304.5" y="229.5" width="61" height="18" fill="#fff" stroke="#ff0000" stroke-width="1" shape-rendering="crispEdges"/><text x="1307" y="245" font-size="16.8" fill="#ff0000" textLength="57.1" lengthAdjust="spacingAndGlyphs" >163.322</text><rect x="1366.5" y="236.5" width="3" height="3" fill="#fff" stroke="#ff0000" stroke-width="1" shape-rendering="crispEdges"/><rect x="1168" y="302" width="10" height="1" fill="#ff0000"/><rect x="1178.5" y="290.5" width="73" height="24" fill="#fff" stroke="#ff0000" stroke-width="1" shape-rendering="crispEdges"/><text x="1180.8" y="310" font-size="21.2" fill="#ff0000" textLength="69" lengthAdjust="spacingAndGlyphs" stroke="#ff0000" stroke-width="0.35">161.774</text><line x1="1127.5" y1="426" x2="1403.5" y2="269.4" stroke="#ff0000" stroke-width="3.0" shape-rendering="crispEdges"/><polygon points="1410.5,265 1397.5,267.5 1403.5,275" fill="#ff0000" stroke="#ff0000" stroke-width="0.8" stroke-linejoin="round" shape-rendering="crispEdges"/><line x1="1264.5" y1="627.9" x2="1396.2" y2="594.1" stroke="#ff0000" stroke-width="3.4" shape-rendering="crispEdges"/><polygon points="1403.5,592.5 1391.8,590.3 1394.3,599.2" fill="#ff0000" stroke="#ff0000" stroke-width="0.8" stroke-linejoin="round" shape-rendering="crispEdges"/><line x1="1258.5" y1="820.3" x2="1406" y2="806.1" stroke="#ff0000" stroke-width="3.4" shape-rendering="crispEdges"/><polygon points="1413.5,805.5 1402.3,802.3 1403.3,810.5" fill="#ff0000" stroke="#ff0000" stroke-width="0.8" stroke-linejoin="round" shape-rendering="crispEdges"/><g fill="#000" shape-rendering="crispEdges"><rect x="0" y="22" width="1651" height="1"/><rect x="1650" y="22" width="1" height="902"/><rect x="0" y="571" width="1651" height="1"/><rect x="0" y="573" width="1651" height="1"/><rect x="0" y="747" width="1651" height="1"/><rect x="0" y="749" width="1651" height="1"/><rect x="0" y="923" width="1651" height="1"/><rect x="1651" y="40" width="3" height="1"/><rect x="1651" y="73" width="3" height="1"/><rect x="1651" y="106" width="3" height="1"/><rect x="1651" y="139" width="3" height="1"/><rect x="1651" y="172" width="3" height="1"/><rect x="1651" y="205" width="3" height="1"/><rect x="1651" y="238" width="3" height="1"/><rect x="1651" y="271" width="3" height="1"/><rect x="1651" y="304" width="3" height="1"/><rect x="1651" y="337" width="3" height="1"/><rect x="1651" y="370" width="3" height="1"/><rect x="1651" y="403" width="3" height="1"/><rect x="1651" y="436" width="3" height="1"/><rect x="1651" y="469" width="3" height="1"/><rect x="1651" y="502" width="3" height="1"/><rect x="1651" y="535" width="3" height="1"/><rect x="1651" y="568" width="3" height="1"/><rect x="1651" y="575" width="2" height="1"/><rect x="1651" y="638" width="2" height="1"/><rect x="1651" y="746" width="2" height="1"/><rect x="1651" y="751" width="2" height="1"/><rect x="1651" y="922" width="2" height="1"/><rect x="-9" y="924" width="1" height="3"/><rect x="55" y="924" width="1" height="3"/><rect x="119" y="924" width="1" height="3"/><rect x="183" y="924" width="1" height="3"/><rect x="247" y="924" width="1" height="3"/><rect x="311" y="924" width="1" height="3"/><rect x="375" y="924" width="1" height="3"/><rect x="439" y="924" width="1" height="3"/><rect x="503" y="924" width="1" height="3"/><rect x="567" y="924" width="1" height="3"/><rect x="631" y="924" width="1" height="3"/><rect x="695" y="924" width="1" height="3"/><rect x="759" y="924" width="1" height="3"/><rect x="823" y="924" width="1" height="3"/><rect x="887" y="924" width="1" height="3"/><rect x="951" y="924" width="1" height="3"/><rect x="1015" y="924" width="1" height="3"/><rect x="1079" y="924" width="1" height="3"/><rect x="1143" y="924" width="1" height="3"/><rect x="1207" y="924" width="1" height="3"/><rect x="1271" y="924" width="1" height="3"/><rect x="1335" y="924" width="1" height="3"/><rect x="1399" y="924" width="1" height="3"/><rect x="1696" y="19" width="1" height="916" fill="#e3e3e3"/></g><polygon points="1412,23 1421,23 1416.5,28" fill="#c0c0c0"/><g></g><text x="1656" y="43.6" font-size="9.4" fill="#000" textLength="32.6" lengthAdjust="spacingAndGlyphs" stroke="#000" stroke-width="0.25">168.110</text><text x="1656" y="76.6" font-size="9.4" fill="#000" textLength="33.3" lengthAdjust="spacingAndGlyphs" stroke="#000" stroke-width="0.25">167.310</text><text x="1656" y="109.6" font-size="9.4" fill="#000" textLength="33.3" lengthAdjust="spacingAndGlyphs" stroke="#000" stroke-width="0.25">166.510</text><text x="1656" y="142.6" font-size="9.4" fill="#000" textLength="33.3" lengthAdjust="spacingAndGlyphs" stroke="#000" stroke-width="0.25">165.730</text><text x="1656" y="175.6" font-size="9.4" fill="#000" textLength="33.3" lengthAdjust="spacingAndGlyphs" stroke="#000" stroke-width="0.25">164.930</text><text x="1656" y="208.6" font-size="9.4" fill="#000" textLength="33.3" lengthAdjust="spacingAndGlyphs" stroke="#000" stroke-width="0.25">164.130</text><text x="1656" y="241.6" font-size="9.4" fill="#000" textLength="33.3" lengthAdjust="spacingAndGlyphs" stroke="#000" stroke-width="0.25">163.330</text><text x="1656" y="274.6" font-size="9.4" fill="#000" textLength="33.3" lengthAdjust="spacingAndGlyphs" stroke="#000" stroke-width="0.25">162.530</text><text x="1656" y="307.6" font-size="9.4" fill="#000" textLength="33.3" lengthAdjust="spacingAndGlyphs" stroke="#000" stroke-width="0.25">161.730</text><text x="1656" y="340.6" font-size="9.4" fill="#000" textLength="33.3" lengthAdjust="spacingAndGlyphs" stroke="#000" stroke-width="0.25">160.930</text><text x="1656" y="373.6" font-size="9.4" fill="#000" textLength="33.3" lengthAdjust="spacingAndGlyphs" stroke="#000" stroke-width="0.25">160.130</text><text x="1656" y="406.6" font-size="9.4" fill="#000" textLength="33.3" lengthAdjust="spacingAndGlyphs" stroke="#000" stroke-width="0.25">159.330</text><text x="1656" y="439.6" font-size="9.4" fill="#000" textLength="33.3" lengthAdjust="spacingAndGlyphs" stroke="#000" stroke-width="0.25">158.530</text><text x="1656" y="472.6" font-size="9.4" fill="#000" textLength="33.3" lengthAdjust="spacingAndGlyphs" stroke="#000" stroke-width="0.25">157.730</text><text x="1656" y="505.6" font-size="9.4" fill="#000" textLength="33.3" lengthAdjust="spacingAndGlyphs" stroke="#000" stroke-width="0.25">156.930</text><text x="1656" y="538.6" font-size="9.4" fill="#000" textLength="33.3" lengthAdjust="spacingAndGlyphs" stroke="#000" stroke-width="0.25">156.130</text><text x="1656" y="571.6" font-size="9.4" fill="#000" textLength="33.3" lengthAdjust="spacingAndGlyphs" stroke="#000" stroke-width="0.25">155.330</text><text x="1654" y="584" font-size="9.4" fill="#000" textLength="28.1" lengthAdjust="spacingAndGlyphs" stroke="#000" stroke-width="0.25">0.9071</text><text x="1654" y="642" font-size="9.4" fill="#000" textLength="17.9" lengthAdjust="spacingAndGlyphs" stroke="#000" stroke-width="0.25">0.00</text><text x="1654" y="744" font-size="9.4" fill="#000" textLength="26.1" lengthAdjust="spacingAndGlyphs" stroke="#000" stroke-width="0.25">-1.542</text><text x="1654" y="760" font-size="9.4" fill="#000" textLength="15.3" lengthAdjust="spacingAndGlyphs" stroke="#000" stroke-width="0.25">100</text><text x="1654" y="789" font-size="9.4" fill="#000" textLength="10.2" lengthAdjust="spacingAndGlyphs" stroke="#000" stroke-width="0.25">80</text><text x="1654" y="840" font-size="9.4" fill="#000" textLength="10.2" lengthAdjust="spacingAndGlyphs" stroke="#000" stroke-width="0.25">50</text><text x="1654" y="901" font-size="9.4" fill="#000" textLength="10.2" lengthAdjust="spacingAndGlyphs" stroke="#000" stroke-width="0.25">15</text><text x="1654" y="920" font-size="9.4" fill="#000" textLength="5.1" lengthAdjust="spacingAndGlyphs" stroke="#000" stroke-width="0.25">0</text><text x="-10.2" y="937" font-size="10" fill="#000" textLength="51.2" lengthAdjust="spacingAndGlyphs" >21 Apr 2022</text><text x="53.8" y="937" font-size="10" fill="#000" textLength="53.9" lengthAdjust="spacingAndGlyphs" >22 Apr 16:00</text><text x="117.8" y="937" font-size="10" fill="#000" textLength="53.9" lengthAdjust="spacingAndGlyphs" >26 Apr 00:00</text><text x="181.8" y="937" font-size="10" fill="#000" textLength="53.9" lengthAdjust="spacingAndGlyphs" >27 Apr 08:00</text><text x="245.8" y="937" font-size="10" fill="#000" textLength="53.9" lengthAdjust="spacingAndGlyphs" >28 Apr 16:00</text><text x="309.8" y="937" font-size="10" fill="#000" textLength="52.3" lengthAdjust="spacingAndGlyphs" >2 May 00:00</text><text x="373.8" y="937" font-size="10" fill="#000" textLength="52.3" lengthAdjust="spacingAndGlyphs" >3 May 08:00</text><text x="437.8" y="937" font-size="10" fill="#000" textLength="52.3" lengthAdjust="spacingAndGlyphs" >4 May 16:00</text><text x="501.8" y="937" font-size="10" fill="#000" textLength="52.3" lengthAdjust="spacingAndGlyphs" >6 May 00:00</text><text x="565.8" y="937" font-size="10" fill="#000" textLength="52.3" lengthAdjust="spacingAndGlyphs" >9 May 08:00</text><text x="629.8" y="937" font-size="10" fill="#000" textLength="57.6" lengthAdjust="spacingAndGlyphs" >10 May 16:00</text><text x="693.8" y="937" font-size="10" fill="#000" textLength="57.6" lengthAdjust="spacingAndGlyphs" >12 May 00:00</text><text x="757.8" y="937" font-size="10" fill="#000" textLength="57.6" lengthAdjust="spacingAndGlyphs" >13 May 08:00</text><text x="821.8" y="937" font-size="10" fill="#000" textLength="57.6" lengthAdjust="spacingAndGlyphs" >16 May 16:00</text><text x="885.8" y="937" font-size="10" fill="#000" textLength="57.6" lengthAdjust="spacingAndGlyphs" >18 May 00:00</text><text x="949.8" y="937" font-size="10" fill="#000" textLength="57.6" lengthAdjust="spacingAndGlyphs" >19 May 08:00</text><text x="1013.8" y="937" font-size="10" fill="#000" textLength="57.6" lengthAdjust="spacingAndGlyphs" >20 May 16:00</text><text x="1077.8" y="937" font-size="10" fill="#000" textLength="57.6" lengthAdjust="spacingAndGlyphs" >24 May 00:00</text><text x="1141.8" y="937" font-size="10" fill="#000" textLength="57.6" lengthAdjust="spacingAndGlyphs" >25 May 08:00</text><text x="1205.8" y="937" font-size="10" fill="#000" textLength="57.6" lengthAdjust="spacingAndGlyphs" >26 May 16:00</text><text x="1269.8" y="937" font-size="10" fill="#000" textLength="57.6" lengthAdjust="spacingAndGlyphs" >30 May 00:00</text><text x="1333.8" y="937" font-size="10" fill="#000" textLength="57.6" lengthAdjust="spacingAndGlyphs" >31 May 08:00</text><text x="1397.8" y="937" font-size="10" fill="#000" textLength="49.6" lengthAdjust="spacingAndGlyphs" >1 Jun 16:00</text><rect x="1652" y="216" width="41" height="11" fill="#ff0000" shape-rendering="crispEdges"/><text x="1656.5" y="225.2" font-size="9.4" fill="#fff" textLength="33.3" lengthAdjust="spacingAndGlyphs" stroke="#fff" stroke-width="0.35">163.708</text><rect x="1652" y="250" width="41" height="11" fill="#ff0000" shape-rendering="crispEdges"/><text x="1656.5" y="259.2" font-size="9.4" fill="#fff" textLength="33.3" lengthAdjust="spacingAndGlyphs" stroke="#fff" stroke-width="0.35">162.890</text><rect x="1652" y="274" width="41" height="11" fill="#000000" shape-rendering="crispEdges"/><text x="1656.5" y="283.2" font-size="9.4" fill="#fff" textLength="33.3" lengthAdjust="spacingAndGlyphs" stroke="#fff" stroke-width="0.35">162.340</text><rect x="1652" y="296" width="41" height="11" fill="#32cd32" shape-rendering="crispEdges"/><text x="1656.5" y="305.2" font-size="9.4" fill="#fff" textLength="33.3" lengthAdjust="spacingAndGlyphs" stroke="#fff" stroke-width="0.35">161.774</text><rect x="1652" y="328" width="41" height="11" fill="#0000ff" shape-rendering="crispEdges"/><text x="1656.5" y="337.2" font-size="9.4" fill="#fff" textLength="33.3" lengthAdjust="spacingAndGlyphs" stroke="#fff" stroke-width="0.35">161.000</text><rect x="1652" y="363" width="41" height="11" fill="#0000ff" shape-rendering="crispEdges"/><text x="1656.5" y="372.2" font-size="9.4" fill="#fff" textLength="33.3" lengthAdjust="spacingAndGlyphs" stroke="#fff" stroke-width="0.35">160.154</text><rect x="0" y="31" width="2" height="1" fill="#000"/><text x="6.2" y="34" font-size="10" fill="#000" textLength="199.9" lengthAdjust="spacingAndGlyphs" >GBPJPY-,H4&#160;&#160;162.451 162.625 162.334 162.340</text><text x="-3" y="586" font-size="10" fill="#000" textLength="126" lengthAdjust="spacingAndGlyphs" >MACD(12,26,9) 0.6082 0.6015</text><text x="-5" y="762" font-size="10" fill="#000" textLength="67.9" lengthAdjust="spacingAndGlyphs" >RSI(14) 61.1088</text></svg><svg width="1697" height="22" viewBox="0 0 1697 22" style="position:absolute;left:0;top:0" font-family="'Liberation Sans', Arial, sans-serif"><defs>
<linearGradient id="gold" x1="0" y1="0" x2="1" y2="1"><stop offset="0" stop-color="#f7dc6a"/><stop offset="0.6" stop-color="#d9a520"/><stop offset="1" stop-color="#a86e10"/></linearGradient>
<radialGradient id="gclk" cx="0.5" cy="0.5" r="0.5"><stop offset="0.6" stop-color="#ffffff"/><stop offset="0.75" stop-color="#7fb0f0"/><stop offset="1" stop-color="#1e5cc8"/></radialGradient>
<linearGradient id="gmag" x1="0" y1="0" x2="0" y2="1"><stop offset="0" stop-color="#d8ecff"/><stop offset="1" stop-color="#5aa0e8"/></linearGradient>
</defs><rect x="0" y="0" width="1697" height="18" fill="#f0f0f0"/><g shape-rendering="crispEdges"><rect x="0" y="18" width="1697" height="1" fill="#a0a0a0"/><rect x="0" y="19" width="1697" height="1" fill="#686868"/><rect x="0" y="20" width="1697" height="2" fill="#ffffff"/><rect x="1696" y="19" width="1" height="3" fill="#e3e3e3"/><rect x="11" y="0" width="1" height="16" fill="#a8a8a8"/><rect x="12" y="0" width="1" height="16" fill="#ffffff"/><rect x="247" y="0" width="1" height="16" fill="#a8a8a8"/><rect x="248" y="0" width="1" height="16" fill="#ffffff"/><rect x="285" y="0" width="1" height="16" fill="#a8a8a8"/><rect x="286" y="0" width="1" height="16" fill="#ffffff"/><rect x="342" y="0" width="1" height="16" fill="#a8a8a8"/><rect x="343" y="0" width="1" height="16" fill="#ffffff"/><rect x="432" y="0" width="1" height="16" fill="#a8a8a8"/><rect x="433" y="0" width="1" height="16" fill="#ffffff"/><rect x="465" y="0" width="1" height="16" fill="#a8a8a8"/><rect x="466" y="0" width="1" height="16" fill="#ffffff"/><rect x="494" y="0" width="1" height="16" fill="#a8a8a8"/><rect x="495" y="0" width="1" height="16" fill="#ffffff"/><rect x="615" y="0" width="1" height="16" fill="#a8a8a8"/><rect x="616" y="0" width="1" height="16" fill="#ffffff"/><rect x="682" y="0" width="1" height="16" fill="#a8a8a8"/><rect x="683" y="0" width="1" height="16" fill="#ffffff"/><rect x="921" y="0" width="1" height="16" fill="#a8a8a8"/><rect x="922" y="0" width="1" height="16" fill="#ffffff"/><rect x="1071" y="0" width="1" height="16" fill="#a8a8a8"/><rect x="1072" y="0" width="1" height="16" fill="#ffffff"/><rect x="1182" y="0" width="1" height="16" fill="#a8a8a8"/><rect x="1183" y="0" width="1" height="16" fill="#ffffff"/><rect x="251" y="1" width="3" height="1" fill="#b4b4b4"/><rect x="251" y="3" width="3" height="1" fill="#b4b4b4"/><rect x="251" y="5" width="3" height="1" fill="#b4b4b4"/><rect x="251" y="7" width="3" height="1" fill="#b4b4b4"/><rect x="251" y="9" width="3" height="1" fill="#b4b4b4"/><rect x="251" y="11" width="3" height="1" fill="#b4b4b4"/><rect x="251" y="13" width="3" height="1" fill="#b4b4b4"/><rect x="251" y="15" width="3" height="1" fill="#b4b4b4"/><rect x="437" y="1" width="3" height="1" fill="#b4b4b4"/><rect x="437" y="3" width="3" height="1" fill="#b4b4b4"/><rect x="437" y="5" width="3" height="1" fill="#b4b4b4"/><rect x="437" y="7" width="3" height="1" fill="#b4b4b4"/><rect x="437" y="9" width="3" height="1" fill="#b4b4b4"/><rect x="437" y="11" width="3" height="1" fill="#b4b4b4"/><rect x="437" y="13" width="3" height="1" fill="#b4b4b4"/><rect x="437" y="15" width="3" height="1" fill="#b4b4b4"/><rect x="620" y="1" width="3" height="1" fill="#b4b4b4"/><rect x="620" y="3" width="3" height="1" fill="#b4b4b4"/><rect x="620" y="5" width="3" height="1" fill="#b4b4b4"/><rect x="620" y="7" width="3" height="1" fill="#b4b4b4"/><rect x="620" y="9" width="3" height="1" fill="#b4b4b4"/><rect x="620" y="11" width="3" height="1" fill="#b4b4b4"/><rect x="620" y="13" width="3" height="1" fill="#b4b4b4"/><rect x="620" y="15" width="3" height="1" fill="#b4b4b4"/><rect x="926" y="1" width="3" height="1" fill="#b4b4b4"/><rect x="926" y="3" width="3" height="1" fill="#b4b4b4"/><rect x="926" y="5" width="3" height="1" fill="#b4b4b4"/><rect x="926" y="7" width="3" height="1" fill="#b4b4b4"/><rect x="926" y="9" width="3" height="1" fill="#b4b4b4"/><rect x="926" y="11" width="3" height="1" fill="#b4b4b4"/><rect x="926" y="13" width="3" height="1" fill="#b4b4b4"/><rect x="926" y="15" width="3" height="1" fill="#b4b4b4"/><rect x="286" y="0" width="25" height="16" fill="#f6f6f6"/><rect x="438" y="0" width="23" height="16" fill="#f6f6f6"/><rect x="466" y="0" width="23" height="16" fill="#f6f6f6"/><rect x="627" y="0" width="23" height="16" fill="#f6f6f6"/><rect x="1072" y="0" width="24" height="16" fill="#f6f6f6"/></g><path d="M20.5,18.5 L22.5,16.5 L24.5,18.5" stroke="#505050" stroke-width="0.9" fill="none"/><path d="M0,8 L3,11 L1,14 Z" fill="#d8a820"/><path d="M21.5,-2 H30 L33.5,1.5 V11.5 H21.5 Z" fill="#fff" stroke="#8a8a8a"/><path d="M23,5.5 H30 M23,8.5 H28" stroke="#9a9a9a"/><path d="M29,4 h4 v4 h4 v4 h-4 v4 h-4 v-4 h-4 v-4 h4 z" fill="#22c322" stroke="#0d8a0d" stroke-width="0.8"/><text x="40" y="10" font-family="'Noto Sans CJK SC', sans-serif" font-size="12" fill="#000" textLength="36" lengthAdjust="spacingAndGlyphs">新订单</text><path d="M88.2,7.5 C90,5.5 92,3 93,0.3 L96.5,0.3 L103.8,7.6 L96,13.9 Z" fill="url(#gold)" stroke="#a0680c" stroke-width="0.8"/><path d="M97,14 L104,6 L104,8.5 L97.5,15 Z" fill="#c99030"/><rect x="118" y="-2" width="11" height="10" fill="#1a8ef0"/><rect x="121" y="-2" width="1" height="9" fill="#9fd4ff"/><rect x="123" y="3" width="5" height="1.5" fill="#e6f4ff"/><path d="M117.5,13.8 C114.8,13.8 114.8,9.6 117.8,9.6 C118.3,6.8 122.3,6 123.8,8.2 C125.2,6.4 129.3,7.2 129.3,9.8 C132.3,9.8 132.3,13.8 129.5,13.8 Z" fill="#e9edf4" stroke="#3d5f99" stroke-width="0.9"/><circle cx="152" cy="6" r="7.2" fill="none" stroke="#5a86d8" stroke-width="1" stroke-dasharray="8,2.5"/><circle cx="152" cy="6" r="4.3" fill="none" stroke="#3a6ac8" stroke-width="1"/><path d="M152,6 A7.5,7.5 0 0 1 158,13" fill="none" stroke="#4caf50" stroke-width="2.5" opacity="0.6"/><circle cx="152" cy="6" r="1.6" fill="#2050c0"/><rect x="151.5" y="6" width="1.3" height="8" fill="#22a022"/><path d="M172,5 L187,5 L181,15 Z" fill="#f3d84a" stroke="#c8a020" stroke-width="0.7"/><ellipse cx="179.5" cy="3" rx="7.5" ry="3.2" fill="#5ab4ea" stroke="#2a80c0" stroke-width="0.7"/><circle cx="183.3" cy="10" r="4.6" fill="#e02010"/><rect x="181.6" y="8.3" width="3.4" height="3.4" fill="#fff"/><text x="193" y="10" font-family="'Noto Sans CJK SC', sans-serif" font-size="12" fill="#000" textLength="46" lengthAdjust="spacingAndGlyphs">自动交易</text><path d="M265.5,0 V14 M263,12.5 H276" stroke="#404040" stroke-width="1" fill="none"/><path d="M273,10.5 l2.5,2 l-2.5,2" stroke="#404040" fill="none" stroke-width="0.8"/><path d="M268.5,10 V3 M266.5,10 H268.5 M268.5,4 H271" stroke="#18a018" stroke-width="1.2" fill="none"/><path d="M293.5,0 V14 M291,12.5 H304" stroke="#404040" stroke-width="1" fill="none"/><path d="M301,10.5 l2.5,2 l-2.5,2" stroke="#404040" fill="none" stroke-width="0.8"/><rect x="295.5" y="0" width="3.5" height="8" fill="#3cc83c" stroke="#108010" stroke-width="0.8"/><path d="M297.3,8 V10" stroke="#108010"/><path d="M321.5,0 V14 M319,12.5 H332" stroke="#404040" stroke-width="1" fill="none"/><path d="M329,10.5 l2.5,2 l-2.5,2" stroke="#404040" fill="none" stroke-width="0.8"/><path d="M321.5,9 L326,3 L331,8" stroke="#18a018" stroke-width="1.1" fill="none"/><path d="M358,7 L365.5,13.5" stroke="#c89a20" stroke-width="3" stroke-linecap="round"/><circle cx="356.5" cy="5" r="5" fill="url(#gmag)" stroke="#3c78c8" stroke-width="1.2"/><path d="M354,5 H359" stroke="#2060c0" stroke-width="1.5"/><path d="M356.5,2.5 V7.5" stroke="#2060c0" stroke-width="1.5"/><path d="M386,7 L393.5,13.5" stroke="#c89a20" stroke-width="3" stroke-linecap="round"/><circle cx="384.5" cy="5" r="5" fill="url(#gmag)" stroke="#3c78c8" stroke-width="1.2"/><path d="M382,5 H387" stroke="#2060c0" stroke-width="1.5"/><rect x="407" y="0" width="7.5" height="6" fill="#3cb43c"/><rect x="415.5" y="0" width="7.5" height="6" fill="#2a6fd0"/><rect x="407" y="7" width="7.5" height="6.5" fill="#2a6fd0"/><rect x="415.5" y="7" width="7.5" height="6.5" fill="#3cb43c"/><path d="M408.5,2.5 h4 M417,2.5 h4 M408.5,10 h4 M417,10 h4" stroke="#fff" stroke-width="1"/><path d="M445.5,0 V14 M443,12.5 H456" stroke="#404040" stroke-width="1" fill="none"/><path d="M453,10.5 l2.5,2 l-2.5,2" stroke="#404040" fill="none" stroke-width="0.8"/><path d="M449,2 L453,5 L449,8 Z" fill="#28b428"/><path d="M473.5,0 V14 M471,12.5 H484" stroke="#404040" stroke-width="1" fill="none"/><path d="M481,10.5 l2.5,2 l-2.5,2" stroke="#404040" fill="none" stroke-width="0.8"/><path d="M479.5,0 V10" stroke="#2050c0" stroke-width="1.2"/><path d="M485,4.5 L481,4.5 M482.5,3 L481,4.5 L482.5,6" stroke="#d03010" stroke-width="1.2" fill="none"/><rect x="504" y="-2" width="9" height="10" fill="#fff" stroke="#8a8a8a"/><rect x="506.5" y="0.5" width="9" height="9" fill="#fff" stroke="#8a8a8a"/><path d="M512,6 h3 v3 h3 v3 h-3 v3 h-3 v-3 h-3 v-3 h3 z" fill="#22c322" stroke="#0d8a0d" stroke-width="0.8"/><path d="M526,5 h5 l-2.5,3 z" fill="#000"/><path d="M565,5 h5 l-2.5,3 z" fill="#000"/><path d="M604,5 h5 l-2.5,3 z" fill="#000"/><circle cx="550" cy="5.5" r="7.5" fill="url(#gclk)"/><circle cx="550" cy="5.5" r="7.5" fill="none" stroke="#1a4fb0" stroke-width="1"/><path d="M550,2 V6 H553" stroke="#303030" stroke-width="1" fill="none"/><rect x="581.5" y="-1" width="15" height="13.5" fill="#fff" stroke="#2a5cb8" stroke-width="1"/><rect x="582" y="-1" width="14" height="2.5" fill="#4a80d8"/><path d="M583,5 l3,-1.5 l3,1 l3,-1.5 l3,1" stroke="#d02020" fill="none" stroke-width="0.9"/><path d="M583,10 l3,-1.5 l3,1 l3,-1.5 l3,1" stroke="#20a020" fill="none" stroke-width="0.9"/><path d="M632.5,0 L632.5,11 L635,8.5 L637,13 L639,12 L637,7.8 L640.5,7.8 Z" fill="#303030"/><path d="M665.5,0 V13 M658,6.5 H673" stroke="#505050" stroke-width="1" fill="none"/><rect x="663" y="4" width="5" height="5" fill="#f0f0f0"/><path d="M699.5,0 V12" stroke="#505050" fill="none"/><path d="M721.5,6.5 H734" stroke="#505050" fill="none"/><path d="M750,13 L762,1" stroke="#505050" fill="none"/><path d="M776,11 L788,-1 M779,12 L791,0 M777,5 h12 M776,8 h12" stroke="#505050" fill="none" stroke-width="0.9"/><text x="787" y="14.6" font-size="6.5" font-weight="bold" fill="#404040">E</text><path d="M805,1.5 h12 M805,5.5 h12 M805,9.5 h10" stroke="#606060" stroke-dasharray="1,1" fill="none"/><text x="814.8" y="14.6" font-size="6.5" font-weight="bold" fill="#404040">F</text><text x="835" y="11" font-size="12" font-weight="bold" fill="#505050">A</text><rect x="861.5" y="-1" width="12" height="12.5" fill="none" stroke="#707070" stroke-dasharray="1,1"/><text x="863" y="10" font-size="11" font-weight="bold" fill="#505050">T</text><path d="M889.5,3 L892.5,0 L895.5,3 Z" fill="#404040"/><path d="M890.5,5 L894,8.5 L897.5,5" stroke="#404040" stroke-width="1.6" fill="none"/><path d="M897.5,9.5 L900.5,6.5 L903.5,9.5 L900.5,12.5 Z" fill="#404040"/><path d="M909.5,5 h5 l-2.5,3 z" fill="#000"/><text x="936.5" y="10" font-size="10" fill="#303030">M1</text><text x="964.8" y="10" font-size="10" fill="#303030">M5</text><text x="990.7" y="10" font-size="10" fill="#303030">M15</text><text x="1018.3" y="10" font-size="10" fill="#303030">M30</text><text x="1049.7" y="10" font-size="10" fill="#303030">H1</text><text x="1076.3" y="10" font-size="10" fill="#303030">H4</text><text x="1105.5" y="10" font-size="10" fill="#303030">D1</text><text x="1133.4" y="10" font-size="10" fill="#303030">W1</text><text x="1159.8" y="10" font-size="10" fill="#303030">MN</text><circle cx="1653" cy="3" r="3.8" fill="#fff" stroke="#2f6ee0" stroke-width="1.8"/><path d="M1650.5,5.8 L1645.5,10.8" stroke="#2f6ee0" stroke-width="2.2" stroke-linecap="round"/><path d="M1671,12 C1667,9 1669,4 1675,4 C1681,4 1683,9 1678,11 L1672,14 Z" fill="#e8e8e8" stroke="#b0b0b0" stroke-width="0.8"/><circle cx="1683.5" cy="3" r="8.2" fill="#e03a1a"/><circle cx="1683.5" cy="3" r="8.2" fill="none" stroke="#c02010" stroke-width="0.6"/><text x="1680" y="7.8" font-size="11.5" font-weight="bold" font-family="'Liberation Serif', serif" fill="#fff">1</text></svg><svg width="215" height="102" viewBox="0 0 215 102" style="position:absolute;left:0;top:0" font-family="'Liberation Sans', Arial, sans-serif"><defs>
<linearGradient id="gbtn" x1="0" y1="0" x2="0" y2="1"><stop offset="0" stop-color="#ff5a5a"/><stop offset="1" stop-color="#e23434"/></linearGradient>
<linearGradient id="gprc" x1="0" y1="0" x2="0" y2="1"><stop offset="0" stop-color="#dc2c2c"/><stop offset="1" stop-color="#b20000"/></linearGradient>
<linearGradient id="gsp" x1="0" y1="0" x2="0" y2="1"><stop offset="0" stop-color="#f0f0f0"/><stop offset="0.45" stop-color="#ececec"/><stop offset="0.5" stop-color="#d8d8d8"/><stop offset="1" stop-color="#d2d2d2"/></linearGradient>
</defs><g shape-rendering="crispEdges"><rect x="0" y="41" width="214" height="60" fill="#fff"/><path d="M0,42 H46 V66 H103 V99 H0 Z" fill="#b00000"/><rect x="0" y="43" width="45" height="22" fill="url(#gbtn)"/><rect x="0" y="67" width="102" height="31" fill="url(#gprc)"/><rect x="0" y="65" width="42" height="1" fill="#8a0000"/><rect x="0" y="66" width="42" height="1" fill="#f36a6a"/><path d="M161,42 H213 V99 H105 V66 H161 Z" fill="#b00000"/><rect x="162" y="43" width="50" height="22" fill="url(#gbtn)"/><rect x="106" y="67" width="106" height="31" fill="url(#gprc)"/><rect x="165" y="65" width="44" height="1" fill="#8a0000"/><rect x="165" y="66" width="44" height="1" fill="#f36a6a"/><rect x="48" y="42" width="111" height="22" fill="#a4a8ac"/><rect x="49" y="43" width="109" height="20" fill="#fff"/><rect x="50" y="44" width="18" height="18" fill="url(#gsp)"/><rect x="69" y="43" width="1" height="20" fill="#a4a8ac"/><rect x="137" y="43" width="1" height="20" fill="#a4a8ac"/><rect x="139" y="44" width="18" height="18" fill="url(#gsp)"/></g><polygon points="56,51 61,51 58.5,54" fill="#4f6fd6"/><polygon points="145.5,55 150.5,55 148,52" fill="#4f6fd6"/><text x="6" y="58" font-size="12.6" fill="#fff" textLength="26" lengthAdjust="spacingAndGlyphs">SELL</text><text x="174.5" y="58" font-size="12.6" fill="#fff" textLength="23" lengthAdjust="spacingAndGlyphs">BUY</text><text x="110.5" y="57" font-size="12.6" fill="#000" textLength="23" lengthAdjust="spacingAndGlyphs">1.00</text><text x="17.5" y="94" font-size="12.4" font-weight="bold" fill="#fff" textLength="20" lengthAdjust="spacingAndGlyphs">162</text><text x="42.5" y="94" font-size="33.5" fill="#fff" textLength="33.5" lengthAdjust="spacingAndGlyphs">34</text><text x="81" y="78" font-size="12" font-weight="bold" fill="#fff" textLength="7" lengthAdjust="spacingAndGlyphs">0</text><text x="127.5" y="94" font-size="12.4" font-weight="bold" fill="#fff" textLength="20" lengthAdjust="spacingAndGlyphs">162</text><text x="153.5" y="94" font-size="33.5" fill="#fff" textLength="33.5" lengthAdjust="spacingAndGlyphs">64</text><text x="192" y="78" font-size="12" font-weight="bold" fill="#fff" textLength="7" lengthAdjust="spacingAndGlyphs">0</text></svg></body></html>
